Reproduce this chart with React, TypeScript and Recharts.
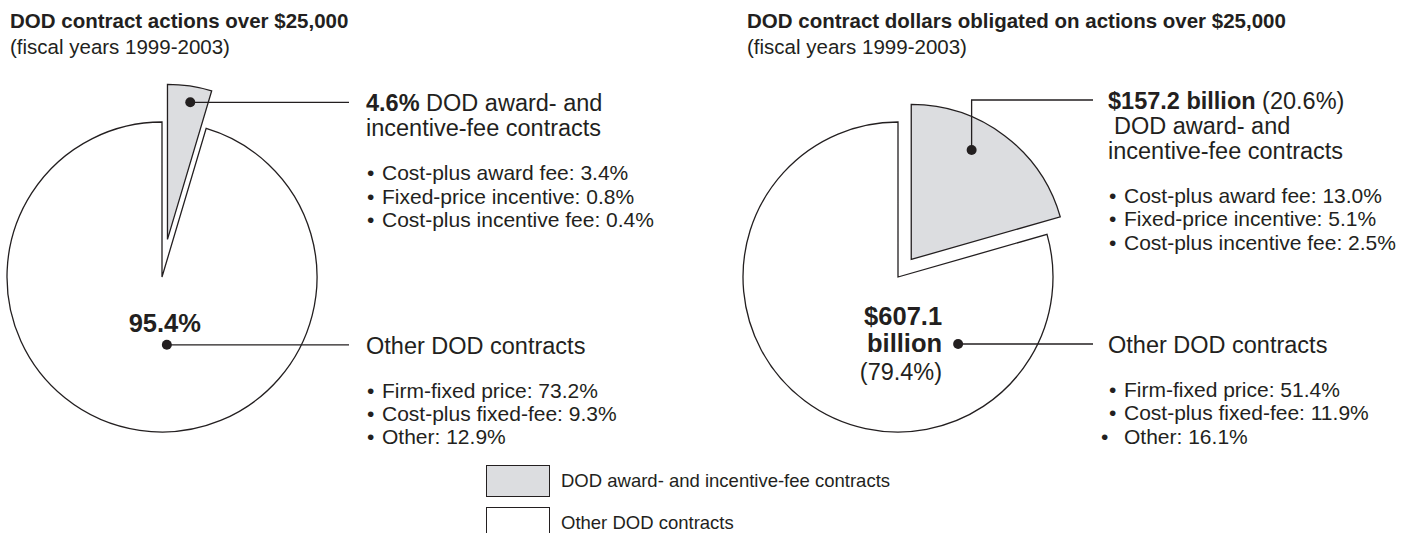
import React from "react";
import { PieChart, Pie, Cell, Legend } from "recharts";

// shares of DOD contract actions / dollars, fiscal years 1999-2003
const categories = ["DOD award- and incentive-fee contracts", "Other DOD contracts"];
const actionsShare = [4.6, 95.4];
const dollarsBillions = [157.2, 607.1];
const dollarsShare = [20.6, 79.4];

const awardTypes = ["Cost-plus award fee", "Fixed-price incentive", "Cost-plus incentive fee"];
const otherTypes = ["Firm-fixed price", "Cost-plus fixed-fee", "Other"];
const actionsAward = [3.4, 0.8, 0.4];
const actionsOther = [73.2, 9.3, 12.9];
const dollarsAward = [13.0, 5.1, 2.5];
const dollarsOther = [51.4, 11.9, 16.1];

const titles = [
  "DOD contract actions over $25,000",
  "DOD contract dollars obligated on actions over $25,000",
];
const subtitle = "(fiscal years 1999-2003)";
const awardLines = ["DOD award- and", "incentive-fee contracts"];

const W = 1411;
const H = 533;
const R = 155;
const INK = "#231f20";
const GRAY = "#dcdde0";
const FONT = "'Liberation Sans', Arial, Helvetica, sans-serif";
const RAD = Math.PI / 180;

const pct = (v: number) => `${v.toFixed(1)}%`;
const cw = (cx: number, cy: number, r: number, deg: number) => ({
  x: cx + r * Math.sin(deg * RAD),
  y: cy - r * Math.cos(deg * RAD),
});

type Run = { t: string; b?: boolean; dx?: number };

function TextBlock({ x, y, head, bullets, lastBulletNudge = 0 }: any) {
  const lastHead = y + (head.length - 1) * 25;
  return (
    <g fontFamily={FONT} fill={INK}>
      {head.map((line: Run[], i: number) => (
        <text key={i} x={x + (line[0].dx || 0)} y={y + i * 25} fontSize={23.5} xmlSpace="preserve">
          {line.map((r, j) => (
            <tspan key={j} fontWeight={r.b ? "bold" : "normal"}>
              {r.t}
            </tspan>
          ))}
        </text>
      ))}
      {bullets.map((s: string, i: number) => {
        const by = lastHead + 44 + i * 23.3;
        const nudge = i === bullets.length - 1 ? lastBulletNudge : 0;
        return (
          <g key={i} fontSize={21}>
            <text x={x + 1 + nudge} y={by}>•</text>
            <text x={x + 16} y={by}>{s}</text>
          </g>
        );
      })}
    </g>
  );
}

function makeLabel(slot: number, spec: any) {
  return (p: any) => {
    if (p.index !== slot) return null;
    const a0 = 90 - p.startAngle;
    const a1 = 90 - p.endAngle;
    const dot = cw(p.cx, p.cy, spec.dotR, a0 + spec.frac * (a1 - a0));
    const lineY = spec.rise ? dot.y - spec.rise : dot.y;
    const pts = spec.rise
      ? `${dot.x},${dot.y} ${dot.x},${lineY} ${spec.lineEndX},${lineY}`
      : `${dot.x},${dot.y} ${spec.lineEndX},${lineY}`;
    return (
      <g>
        <polyline points={pts} fill="none" stroke={INK} strokeWidth={1.3} />
        <circle cx={dot.x} cy={dot.y} r={5} fill={INK} />
        {spec.center ? spec.center(dot) : null}
        <TextBlock
          x={spec.textX}
          y={lineY + 9}
          head={spec.head}
          bullets={spec.bullets}
          lastBulletNudge={spec.lastBulletNudge}
        />
      </g>
    );
  };
}

const charts = [
  {
    key: "actions",
    values: actionsShare,
    cx: 162,
    cy: 277,
    explode: 38,
    titleX: 10,
    award: {
      dotR: 139,
      frac: 0.57,
      lineEndX: 349,
      textX: 366,
      head: [[{ t: pct(actionsShare[0]), b: true }, { t: " " + awardLines[0] }], [{ t: awardLines[1] }]],
      bullets: awardTypes.map((n, i) => `${n}: ${pct(actionsAward[i])}`),
    },
    other: {
      dotR: 68,
      frac: 0.464,
      lineEndX: 349,
      textX: 366,
      head: [[{ t: categories[1] }]],
      bullets: otherTypes.map((n, i) => `${n}: ${pct(actionsOther[i])}`),
      center: (d: any) => (
        <text x={d.x - 2} y={d.y - 13} textAnchor="middle" fontFamily={FONT} fontWeight="bold" fontSize={25.5} fill={INK}>
          {pct(actionsShare[1])}
        </text>
      ),
    },
  },
  {
    key: "dollars",
    values: dollarsBillions,
    cx: 898,
    cy: 277,
    explode: 22,
    titleX: 747,
    award: {
      dotR: 125,
      frac: 0.39,
      rise: 50,
      lineEndX: 1093,
      textX: 1108,
      head: [
        [{ t: `$${dollarsBillions[0].toFixed(1)} billion`, b: true }, { t: ` (${pct(dollarsShare[0])})` }],
        [{ t: awardLines[0], dx: 6 }],
        [{ t: awardLines[1] }],
      ],
      bullets: awardTypes.map((n, i) => `${n}: ${pct(dollarsAward[i])}`),
    },
    other: {
      dotR: 90,
      frac: 0.224,
      lineEndX: 1093,
      textX: 1108,
      lastBulletNudge: -8,
      head: [[{ t: categories[1] }]],
      bullets: otherTypes.map((n, i) => `${n}: ${pct(dollarsOther[i])}`),
      center: (d: any) => (
        <g fontFamily={FONT} fill={INK} textAnchor="end">
          <text x={d.x - 16} y={d.y - 19} fontWeight="bold" fontSize={25.5}>
            ${dollarsBillions[1].toFixed(1)}
          </text>
          <text x={d.x - 16} y={d.y + 8} fontWeight="bold" fontSize={25.5}>
            billion
          </text>
          <text x={d.x - 16} y={d.y + 36} fontSize={23.5}>
            ({pct(dollarsShare[1])})
          </text>
        </g>
      ),
    },
  },
];

const legendFills = [GRAY, "#ffffff"];

function LegendBox() {
  return (
    <div style={{ fontFamily: FONT, color: INK, fontSize: 18.5 }}>
      {categories.map((c, i) => (
        <div key={c} style={{ display: "flex", alignItems: "center", height: 32, marginBottom: 10 }}>
          <div
            style={{
              width: 62,
              height: 30,
              background: legendFills[i],
              border: `1.5px solid ${INK}`,
              marginRight: 11,
            }}
          />
          <span>{c}</span>
        </div>
      ))}
    </div>
  );
}

export default function App() {
  return (
    <div style={{ position: "absolute", left: 0, top: 0, width: W, height: H, background: "#fff", overflow: "hidden" }}>
      <PieChart width={W} height={H} margin={{ top: 0, right: 0, bottom: 0, left: 0 }}>
        {charts.map((c) => {
          const data = c.values.map((v, i) => ({ name: categories[i], value: v }));
          const total = c.values.reduce((a, b) => a + b, 0);
          const mid = (180 * c.values[0]) / total;
          const off = cw(c.cx, c.cy, c.explode, mid);
          return [
            <Pie
              key={c.key + "-other"}
              data={data}
              dataKey="value"
              cx={c.cx}
              cy={c.cy}
              outerRadius={R}
              startAngle={90}
              endAngle={-270}
              labelLine={false}
              label={makeLabel(1, c.other)}
              isAnimationActive={false}
            >
              <Cell fill="none" stroke="none" />
              <Cell fill="#ffffff" stroke={INK} strokeWidth={1.3} />
            </Pie>,
            <Pie
              key={c.key + "-award"}
              data={data}
              dataKey="value"
              cx={off.x}
              cy={off.y}
              outerRadius={R}
              startAngle={90}
              endAngle={-270}
              labelLine={false}
              label={makeLabel(0, c.award)}
              isAnimationActive={false}
            >
              <Cell fill={GRAY} stroke={INK} strokeWidth={1.3} />
              <Cell fill="none" stroke="none" />
            </Pie>,
          ];
        })}
        <Legend
          content={() => <LegendBox />}
          wrapperStyle={{ position: "absolute", left: 486, top: 465, width: "auto", bottom: "auto" }}
        />
      </PieChart>
      {charts.map((c, i) => (
        <svg key={c.key} width={W} height={70} style={{ position: "absolute", left: 0, top: 0, pointerEvents: "none" }}>
          <text x={c.titleX} y={28} fontFamily={FONT} fontWeight="bold" fontSize={20.5} fill={INK}>
            {titles[i]}
          </text>
          <text x={c.titleX} y={54} fontFamily={FONT} fontSize={20.5} fill={INK}>
            {subtitle}
          </text>
        </svg>
      ))}
    </div>
  );
}
